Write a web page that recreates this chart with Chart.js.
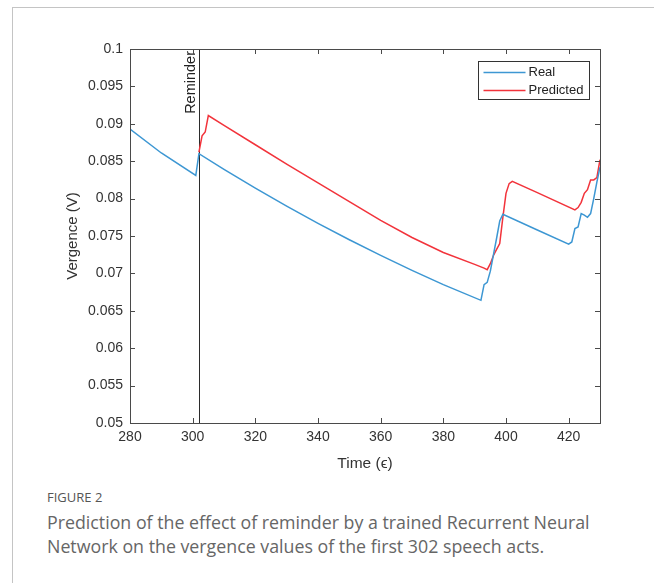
<!DOCTYPE html>
<html>
<head>
<meta charset="utf-8">
<script src="https://cdn.jsdelivr.net/npm/chart.js@4.4.0/dist/chart.umd.min.js"></script>
<style>
  html, body { margin: 0; padding: 0; background: #fff; }
  body { width: 654px; height: 583px; position: relative; overflow: hidden; }
  #frame { position: absolute; left: 12px; top: 7px; right: 0; bottom: 0;
           border-left: 1px solid #c4c4c4; border-top: 1px solid #c4c4c4; }
  #wrap { position: absolute; left: 0; top: 0; width: 654px; height: 480px; }
  .fig-label { position: absolute; left: 47px; top: 488px; font: 13px "Open Sans"; color: #555; }
  .caption { position: absolute; left: 47px; top: 510px; width: 560px;
             font: 17.8px/24px "Open Sans"; color: #666; }
</style>
</head>
<body>
<div id="frame"></div>
<div id="wrap"><canvas id="chart" width="654" height="480"></canvas></div>
<div class="fig-label">FIGURE 2</div>
<div class="caption">Prediction of the effect of reminder by a trained Recurrent Neural Network on the vergence values of the first 302 speech acts.</div>
<script>
const realTime = [280, 290, 301, 302, 310, 320, 330, 340, 350, 360, 370, 380, 392, 393, 394,
  395, 396, 397, 398, 399, 410, 420, 421, 422, 423, 424, 425, 426, 427, 428, 429, 430];
const realVergence = [0.0893, 0.0861, 0.0831, 0.0860, 0.0839, 0.0814, 0.0790, 0.0767, 0.0745,
  0.0724, 0.0704, 0.0685, 0.0664, 0.0685, 0.0688, 0.0703, 0.0725, 0.0747, 0.0770, 0.0779,
  0.0758, 0.0739, 0.0742, 0.0760, 0.0762, 0.0780, 0.0778, 0.0775, 0.0780, 0.0800, 0.0822, 0.0842];

const predTime = [302, 303, 304, 305, 310, 320, 330, 340, 350, 360, 370, 380, 390, 393, 394,
  395, 396, 397, 398, 399, 400, 401, 402, 410, 422, 423, 424, 425, 426, 427, 428, 429, 430];
const predVergence = [0.0862, 0.0884, 0.0889, 0.0911, 0.0898, 0.0872, 0.0846, 0.0821, 0.0796,
  0.0771, 0.0748, 0.0728, 0.0712, 0.0707, 0.0705, 0.0713, 0.0724, 0.0732, 0.0740, 0.0775,
  0.0807, 0.0820, 0.0823, 0.0808, 0.0785, 0.0788, 0.0795, 0.0807, 0.0812, 0.0825, 0.0825,
  0.0828, 0.0852];

const xTicks = [280, 300, 320, 340, 360, 380, 400, 420];
const yTicks = [0.05, 0.055, 0.06, 0.065, 0.07, 0.075, 0.08, 0.085, 0.09, 0.095, 0.1];
const yLabels = ["0.05", "0.055", "0.06", "0.065", "0.07", "0.075", "0.08", "0.085", "0.09", "0.095", "0.1"];
const reminderTime = 302;

const AXIS_COLOR = "#4a4a4a";
const TEXT_COLOR = "#333";
const FONT = "Liberation Sans";

function toPoints(xs, ys) {
  return xs.map((x, i) => ({ x: x, y: ys[i] }));
}

const boxAndMarks = {
  id: "boxAndMarks",
  beforeDatasetsDraw(chart) {
    const { ctx, chartArea: a, scales: { x } } = chart;
    const px = Math.round(x.getPixelForValue(reminderTime)) + 0.5;
    ctx.save();
    ctx.strokeStyle = "#2b2b2b";
    ctx.lineWidth = 1;
    ctx.beginPath();
    ctx.moveTo(px, a.top);
    ctx.lineTo(px, a.bottom);
    ctx.stroke();
    ctx.translate(px - 5, a.top + 2);
    ctx.rotate(-Math.PI / 2);
    ctx.fillStyle = "#222";
    ctx.font = "14.5px '" + FONT + "'";
    ctx.textAlign = "right";
    ctx.textBaseline = "alphabetic";
    ctx.fillText("Reminder", 0, 0);
    ctx.restore();
  },
  afterDatasetsDraw(chart) {
    const { ctx, chartArea: a, scales: { x, y } } = chart;
    ctx.save();
    ctx.strokeStyle = AXIS_COLOR;
    ctx.lineWidth = 1;
    ctx.strokeRect(Math.round(a.left) + 0.5, Math.round(a.top) + 0.5,
      Math.round(a.right - a.left), Math.round(a.bottom - a.top));
    ctx.beginPath();
    xTicks.forEach(v => {
      const px = Math.round(x.getPixelForValue(v)) + 0.5;
      ctx.moveTo(px, a.bottom); ctx.lineTo(px, a.bottom - 5);
      ctx.moveTo(px, a.top); ctx.lineTo(px, a.top + 5);
    });
    yTicks.forEach(v => {
      const py = Math.round(y.getPixelForValue(v)) + 0.5;
      ctx.moveTo(a.left, py); ctx.lineTo(a.left + 5, py);
      ctx.moveTo(a.right, py); ctx.lineTo(a.right - 5, py);
    });
    ctx.stroke();

    // legend box, top right
    const lx = 478.5, ly = 61.5, lw = 111, lh = 38;
    ctx.fillStyle = "#fff";
    ctx.fillRect(lx, ly, lw, lh);
    ctx.strokeStyle = "#333";
    ctx.strokeRect(lx, ly, lw, lh);
    ctx.font = "13px '" + FONT + "'";
    ctx.textBaseline = "middle";
    chart.data.datasets.forEach((ds, i) => {
      const yy = ly + 11 + i * 18;
      ctx.strokeStyle = ds.borderColor;
      ctx.lineWidth = 1.5;
      ctx.beginPath();
      ctx.moveTo(lx + 5, yy); ctx.lineTo(lx + 47, yy);
      ctx.stroke();
      ctx.fillStyle = "#222";
      ctx.fillText(ds.label, lx + 50, yy);
    });
    ctx.restore();
  }
};

new Chart(document.getElementById("chart"), {
  type: "line",
  data: {
    datasets: [
      { label: "Real", data: toPoints(realTime, realVergence), borderColor: "#3d97d3",
        borderWidth: 1.5, pointRadius: 0, tension: 0, fill: false },
      { label: "Predicted", data: toPoints(predTime, predVergence), borderColor: "#f2333b",
        borderWidth: 1.5, pointRadius: 0, tension: 0, fill: false }
    ]
  },
  plugins: [boxAndMarks],
  options: {
    responsive: false,
    animation: false,
    layout: { padding: { left: 60, top: 49, right: 54, bottom: 3 } },
    plugins: { legend: { display: false }, tooltip: { enabled: false } },
    scales: {
      x: {
        type: "linear", min: 280, max: 430,
        afterBuildTicks: s => { s.ticks = xTicks.map(v => ({ value: v })); },
        afterFit: s => { s.height = 54; },
        grid: { display: false, drawTicks: false },
        border: { display: false },
        ticks: { color: TEXT_COLOR, font: { family: FONT, size: 14 }, padding: 6, maxRotation: 0, autoSkip: false },
        title: { display: true, text: "Time (\u03F5)", color: TEXT_COLOR, font: { family: FONT, size: 15.5 } }
      },
      y: {
        type: "linear", min: 0.05, max: 0.1,
        afterBuildTicks: s => { s.ticks = yTicks.map(v => ({ value: v })); },
        afterFit: s => { s.width = 70; },
        grid: { display: false, drawTicks: false },
        border: { display: false },
        ticks: { color: TEXT_COLOR, font: { family: FONT, size: 14 }, padding: 7, autoSkip: false,
                 callback: (v, i) => yLabels[i] },
        title: { display: true, text: "Vergence (V)", color: TEXT_COLOR, font: { family: FONT, size: 15 } }
      }
    }
  }
});
</script>
</body>
</html>
